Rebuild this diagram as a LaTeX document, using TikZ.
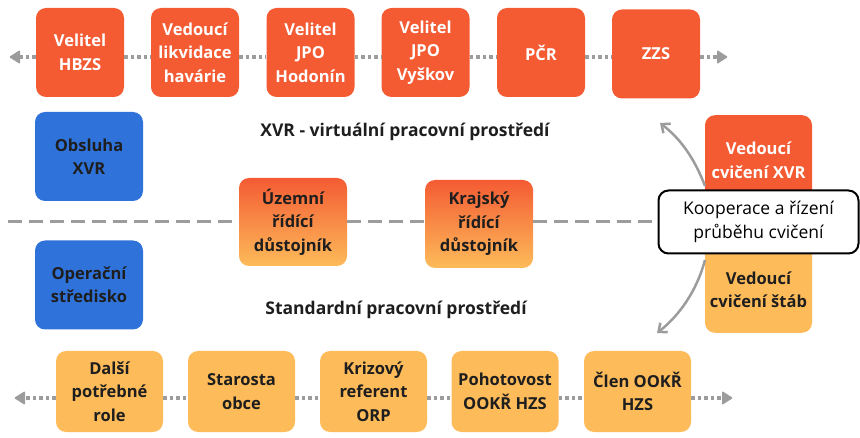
\documentclass[tikz,border=0pt]{standalone}
\usepackage{fontspec}
\setmainfont{Open Sans}
\usetikzlibrary{arrows.meta}
\definecolor{cOrange}{HTML}{F45B33}
\definecolor{cBlue}{HTML}{2F73DA}
\definecolor{cYellow}{HTML}{FDBB5A}
\definecolor{cGray}{HTML}{9C9C9C}
\definecolor{cText}{HTML}{1E1E1E}
\tikzset{
  box/.style={rounded corners=10pt, minimum height=89pt, align=center, inner sep=0pt,
    font=\fontsize{16.5}{23.5}\selectfont\bfseries},
  topbox/.style={box, fill=cOrange, text=white, minimum width=88pt},
  bluebox/.style={box, fill=cBlue, text=cText, minimum width=108pt},
  gradbox/.style={box, top color=cOrange, bottom color=cYellow, text=cText, minimum width=108pt, minimum height=88pt},
  botbox/.style={box, fill=cYellow, text=cText, minimum width=107pt, minimum height=81pt},
  sidebox/.style={rounded corners=10pt, minimum width=107pt, minimum height=112pt, inner sep=0pt},
  sidetext/.style={font=\fontsize{16.5}{23.5}\selectfont\bfseries, align=center},
  dotline/.style={draw=cGray, line width=3.5pt, dash pattern=on 3.5pt off 3pt},
  tipL/.style={fill=cGray, rounded corners=1pt},
  dashline/.style={draw=cGray, line width=3pt, dash pattern=on 14pt off 7pt},
  curvearrow/.style={draw=cGray, line width=2.5pt, -{Straight Barb[length=7pt,width=12pt]}},
  areatext/.style={font=\fontsize{17.5}{20}\selectfont\bfseries, text=cText}
}
\begin{document}
\begin{tikzpicture}[x=1pt,y=-1pt]
\useasboundingbox (0,0) rectangle (860,438);
\coordinate (dashL) at (8,222);
% top row
\node[topbox] (hbzs) at (80,52.5) {Velitel\\HBZS};
\node[topbox] (likv) at (195,52.5) {Vedoucí\\likvidace\\havárie};
\node[topbox] (hod) at (310.5,52.5) {Velitel\\JPO\\Hodonín};
\node[topbox] (vys) at (425.5,52.5) {Velitel\\JPO\\Vyškov};
\node[topbox] (pcr) at (541,52.5) {PČR};
\node[topbox] (zzs) at (656,54) {ZZS};
\coordinate (topL) at (9,57);
\coordinate (topR) at (728,57);
\draw[dotline] ([yshift=-4.5pt]hbzs.west) -- ([xshift=10pt]topL);
\fill[tipL] (topL) -- ++(11,-7) -- ++(0,14) -- cycle;
\draw[dotline] ([yshift=-4.5pt]hbzs.east) -- ([yshift=-4.5pt]likv.west);
\draw[dotline] ([yshift=-4.5pt]likv.east) -- ([yshift=-4.5pt]hod.west);
\draw[dotline] ([yshift=-4.5pt]hod.east) -- ([yshift=-4.5pt]vys.west);
\draw[dotline] ([yshift=-4.5pt]vys.east) -- ([yshift=-4.5pt]pcr.west);
\draw[dotline] ([yshift=-4.5pt]pcr.east) -- ([yshift=-3pt]zzs.west);
\draw[dotline] ([yshift=-3pt]zzs.east) -- ([xshift=-10pt]topR);
\fill[tipL] (topR) -- ++(-11,-7) -- ++(0,14) -- cycle;
% blue boxes
\node[bluebox] (obs) at (89,156.5) {Obsluha\\XVR};
\node[bluebox] (ops) at (89,285) {Operační\\středisko};
% area labels
\node[areatext] (xvrlab) at (405,132) {XVR - virtuální pracovní prostředí};
\node[areatext] (stdlab) at (396,310) {Standardní pracovní prostředí};
% right column
\node[sidebox, fill=cOrange, anchor=north,
  label={[sidetext, text=white, yshift=11pt]center:Vedoucí\\cvičení XVR}] (vxvr) at (758.5,115) {};
\node[sidebox, fill=cYellow, anchor=south,
  label={[sidetext, text=cText, yshift=-13pt]center:Vedoucí\\cvičení štáb}] (vstab) at (758.5,333) {};
\node[draw=black, line width=2pt, fill=white, rounded corners=10pt, minimum width=200pt, minimum height=63pt, align=center,
  font=\fontsize{17.5}{24}\selectfont, text=black] (koop) at (758.5,222) {Kooperace a řízení\\průběhu cvičení};
% middle gradient boxes
\node[gradbox] (uzem) at (293,222) {Územní\\řídící\\důstojník};
\node[gradbox] (kraj) at (479,224) {Krajský\\řídící\\důstojník};
\draw[dashline] (dashL) -- (uzem.west);
\draw[dashline] (uzem.east) -- ([yshift=2pt]kraj.west);
\draw[dashline] ([yshift=2pt]kraj.east) -- (koop.west);
% curved arrows
\coordinate (tipT) at (660,123);
\coordinate (tipB) at (657,333);
\draw[curvearrow] (705,186) .. controls (695,160) and (682,140) .. (tipT);
\draw[curvearrow] (705,260) .. controls (697,290) and (680,315) .. (tipB);
% bottom row
\node[botbox] (dalsi) at (109.5,391.5) {Další\\potřebné\\role};
\node[botbox] (star) at (241.5,391.5) {Starosta\\obce};
\node[botbox] (kriz) at (373.5,391.5) {Krizový\\referent\\ORP};
\node[botbox] (poho) at (505,391.5) {Pohotovost\\OOKŘ HZS};
\node[botbox] (clen) at (637.5,391.5) {Člen OOKŘ\\HZS};
\coordinate (botL) at (14,398);
\coordinate (botR) at (733,398);
\draw[dotline] ([yshift=-6.5pt]dalsi.west) -- ([xshift=10pt]botL);
\fill[tipL] (botL) -- ++(11,-7) -- ++(0,14) -- cycle;
\draw[dotline] ([yshift=-6.5pt]dalsi.east) -- ([yshift=-6.5pt]star.west);
\draw[dotline] ([yshift=-6.5pt]star.east) -- ([yshift=-6.5pt]kriz.west);
\draw[dotline] ([yshift=-6.5pt]kriz.east) -- ([yshift=-6.5pt]poho.west);
\draw[dotline] ([yshift=-6.5pt]poho.east) -- ([yshift=-6.5pt]clen.west);
\draw[dotline] ([yshift=-6.5pt]clen.east) -- ([xshift=-10pt]botR);
\fill[tipL] (botR) -- ++(-11,-7) -- ++(0,14) -- cycle;
\end{tikzpicture}
\end{document}
